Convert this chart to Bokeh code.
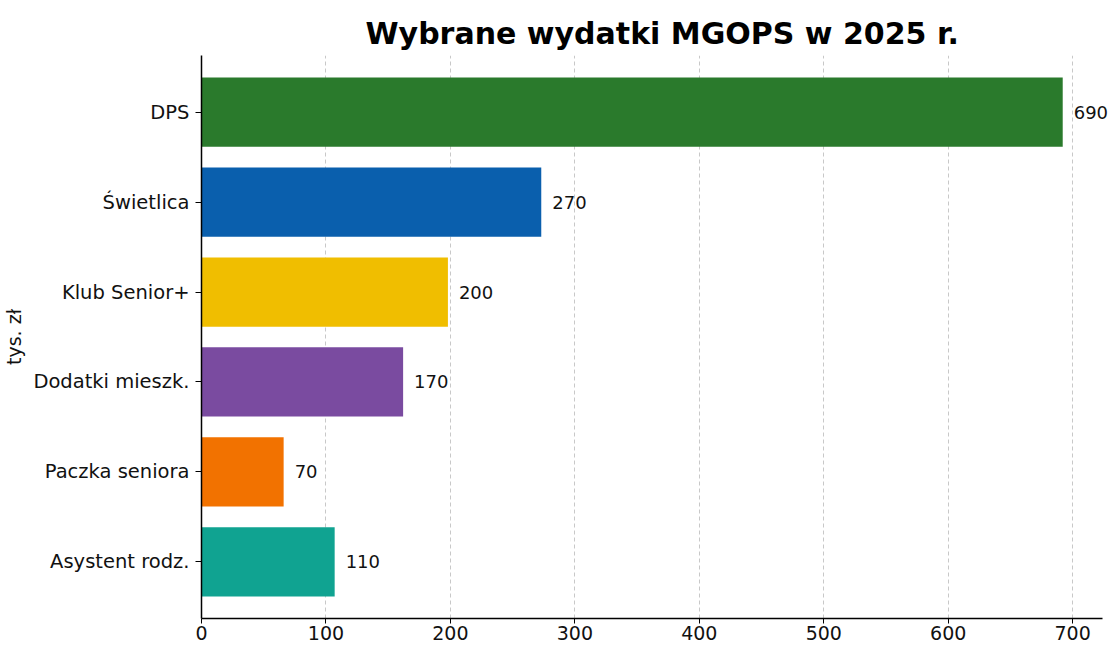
from bokeh.plotting import figure
from bokeh.models import Range1d, FixedTicker, ColumnDataSource, LabelSet
from bokeh.core.properties import value
from bokeh.embed import file_html
from bokeh.resources import INLINE

# ---- data ----
categories = ["DPS", "Świetlica", "Klub Senior+", "Dodatki mieszk.", "Paczka seniora", "Asystent rodz."]
values = [692, 273, 198, 162, 66, 107]
value_labels = ["690", "270", "200", "170", "70", "110"]
colors = ["#2a7a2c", "#0a5fad", "#f0be00", "#7a4ba0", "#f27200", "#10a391"]
x_ticks = [0, 100, 200, 300, 400, 500, 600, 700]
title_text = "Wybrane wydatki MGOPS w 2025 r."
y_label = "tys. zł"

n = len(categories)
positions = [n - 1 - i for i in range(n)]

src = ColumnDataSource(dict(
    pos=positions, val=values, lab=value_labels, col=colors, cat=categories,
))

FONT = "DejaVu Sans"

p = figure(
    width=1112, height=648,
    x_range=Range1d(0, 732), y_range=Range1d(-0.63, n - 1 + 0.63),
    output_backend="svg", toolbar_location=None,
    min_border_left=199, min_border_right=0, min_border_top=55, min_border_bottom=30,
    background_fill_color="white", border_fill_color="white",
)
p.outline_line_color = None

p.hbar(y="pos", left=0, right="val", height=0.77, fill_color="col", line_color=None, source=src)

labels = LabelSet(x="val", y="pos", text="lab", x_offset=11, text_baseline="middle", text_align="left",
                  text_font=value(FONT), text_font_size=value("18px"), text_color=value("#111111"),
                  source=src)
p.add_layout(labels)

# title
p.title.text = title_text
p.title.text_font = FONT
p.title.text_font_style = "bold"
p.title.text_font_size = "30px"
p.title.align = "left"
p.title.offset = 164
p.title.text_color = "#000000"

# x axis
xa = p.xaxis[0]
xa.ticker = FixedTicker(ticks=x_ticks)
xa.bounds = (0, 724)
xa.axis_line_color = "#000000"
xa.axis_line_width = 1.5
xa.major_tick_line_color = "#000000"
xa.major_tick_out = 5
xa.major_tick_in = 0
xa.minor_tick_line_color = None
xa.major_label_standoff = 2
xa.major_label_text_font = FONT
xa.major_label_text_font_size = "19px"
xa.major_label_text_color = "#111111"

# y axis
ya = p.yaxis[0]
ya.ticker = FixedTicker(ticks=positions)
ya.major_label_overrides = {pos: cat for pos, cat in zip(positions, categories)}
ya.axis_line_color = "#000000"
ya.axis_line_width = 1.5
ya.major_tick_line_color = "#000000"
ya.major_tick_out = 6
ya.major_tick_in = 0
ya.minor_tick_line_color = None
ya.major_label_standoff = 6
ya.major_label_text_font = FONT
ya.major_label_text_font_size = "19.5px"
ya.major_label_text_color = "#111111"
ya.axis_label = y_label
ya.axis_label_text_font = FONT
ya.axis_label_text_font_size = "19px"
ya.axis_label_text_font_style = "normal"
ya.axis_label_text_color = "#111111"

# grid
p.ygrid.grid_line_color = None
p.xgrid.ticker = FixedTicker(ticks=x_ticks)
p.xgrid.grid_line_color = "#c8c8c8"
p.xgrid.grid_line_dash = "4 3"
p.xgrid.grid_line_width = 1

open("out.html", "w").write(file_html(p, INLINE))
